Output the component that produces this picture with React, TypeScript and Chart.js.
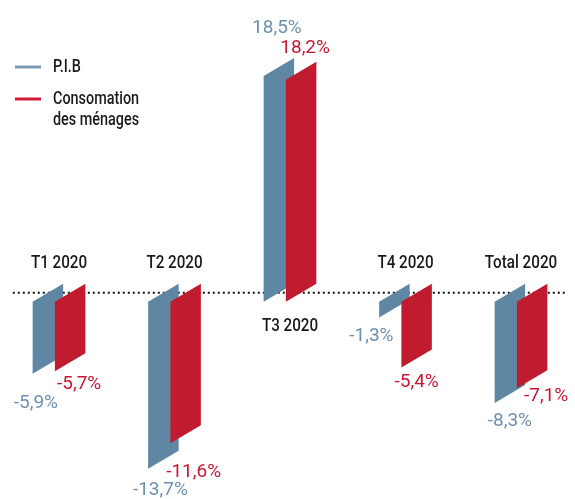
import React, { useEffect, useRef } from "react";
import { Chart, registerables } from "chart.js";

Chart.register(...registerables);

// ---- Data ----
const categories = ["T1 2020", "T2 2020", "T3 2020", "T4 2020", "Total 2020"];
const seriesNames = ["P.I.B", "Consomation\ndes ménages"];
const pibValues = [-5.9, -13.7, 18.5, -1.3, -8.3];
const consoValues = [-5.7, -11.6, 18.2, -5.4, -7.1];

// ---- Styles ----
const BAR_COLORS = ["#5f87a4", "#c11b2f"];
const LABEL_COLORS = ["#6c90b0", "#c8172e"];
const LEGEND_COLORS = ["#7d9ab3", "#d41a3a"];
const TEXT_COLOR = "#1a1a1a";
const NARROW = "Roboto, sans-serif";
const NARROW_SCALE = 0.8;
const VALUE_FONT = "19px Roboto, sans-serif";
// label nudges (dx from bar center, dy from anchor corner) per dataset, per category
const LABEL_NUDGE = [
  [[-12, 30], [-3, 21], [-2, -30], [-23, 19], [0, 18]],
  [[9, 13], [8, 29], [4, -13], [0, 15], [14, 8]],
];

const fmt = (v: number) => v.toFixed(1).replace(".", ",") + "%";

function narrowText(ctx: CanvasRenderingContext2D, t: string, x: number, y: number) {
  ctx.save();
  ctx.translate(x, y);
  ctx.scale(NARROW_SCALE, 1);
  ctx.fillText(t, 0, 0);
  ctx.restore();
}

const skewPlugin = {
  id: "skewBars",
  beforeDatasetsDraw(chart: any) {
    const { ctx, scales } = chart;
    const y0 = scales.y.getPixelForValue(0);
    const xl = scales.x.getPixelForValue(-0.4);
    const xr = scales.x.getPixelForValue(4.4);
    ctx.save();
    ctx.setLineDash([2, 3]);
    ctx.lineWidth = 2;
    ctx.strokeStyle = "#111";
    ctx.beginPath();
    ctx.moveTo(xl, y0);
    ctx.lineTo(xr, y0);
    ctx.stroke();
    ctx.restore();
  },
  afterDatasetsDraw(chart: any) {
    const { ctx, scales } = chart;
    const y0 = scales.y.getPixelForValue(0);
    ctx.save();
    // bars
    chart.data.datasets.forEach((ds: any, di: number) => {
      const meta = chart.getDatasetMeta(di);
      meta.data.forEach((el: any) => {
        const { x, y, base, width } = el.getProps(["x", "y", "base", "width"], true);
        const top = Math.min(y, base);
        const bot = Math.max(y, base);
        const s = width * 0.295;
        const l = x - width / 2;
        const r = x + width / 2;
        ctx.fillStyle = BAR_COLORS[di];
        ctx.beginPath();
        ctx.moveTo(l, top + s);
        ctx.lineTo(r, top - s);
        ctx.lineTo(r, bot - s);
        ctx.lineTo(l, bot + s);
        ctx.closePath();
        ctx.fill();
      });
    });
    // value labels
    ctx.font = VALUE_FONT;
    ctx.textAlign = "center";
    ctx.textBaseline = "middle";
    chart.data.datasets.forEach((ds: any, di: number) => {
      const meta = chart.getDatasetMeta(di);
      meta.data.forEach((el: any, i: number) => {
        const v = ds.data[i];
        const { x, y, base, width } = el.getProps(["x", "y", "base", "width"], true);
        const s = width * 0.295;
        const [dx, dy] = LABEL_NUDGE[di][i];
        const anchorY = v < 0 ? Math.max(y, base) + s : Math.min(y, base) - s;
        ctx.fillStyle = LABEL_COLORS[di];
        ctx.fillText(fmt(v), x + dx, anchorY + dy);
      });
    });
    // category labels
    ctx.font = `500 19px ${NARROW}`;
    ctx.fillStyle = TEXT_COLOR;
    chart.data.labels.forEach((lab: string, i: number) => {
      const cx = scales.x.getPixelForValue(i);
      const allPos = chart.data.datasets.every((d: any) => d.data[i] >= 0);
      narrowText(ctx, lab, cx, allPos ? y0 + 34 : y0 - 29);
    });
    // legend
    ctx.textAlign = "left";
    ctx.font = `500 18px ${NARROW}`;
    let ly = 67;
    chart.data.datasets.forEach((ds: any, di: number) => {
      ctx.strokeStyle = LEGEND_COLORS[di];
      ctx.lineWidth = 3;
      ctx.setLineDash([]);
      ctx.beginPath();
      ctx.moveTo(15, ly);
      ctx.lineTo(41, ly);
      ctx.stroke();
      ctx.fillStyle = TEXT_COLOR;
      const lines = String(ds.label).split("\n");
      lines.forEach((t, k) => narrowText(ctx, t, 53, ly + k * 21.5));
      ly += 32;
    });
    ctx.restore();
  },
};

export default function App() {
  const ref = useRef<HTMLCanvasElement | null>(null);
  useEffect(() => {
    document.body.style.margin = "0";
    const chart = new Chart(ref.current as HTMLCanvasElement, {
      type: "bar",
      data: {
        labels: categories,
        datasets: [
          { label: seriesNames[0], data: pibValues, backgroundColor: "rgba(0,0,0,0)", borderWidth: 0 },
          { label: seriesNames[1], data: consoValues, backgroundColor: "rgba(0,0,0,0)", borderWidth: 0 },
        ],
      },
      options: {
        animation: false,
        responsive: true,
        maintainAspectRatio: false,
        layout: { padding: { left: 59, right: 54, top: 6, bottom: 5 } },
        datasets: { bar: { categoryPercentage: 0.385, barPercentage: 1.37 } },
        plugins: { legend: { display: false }, tooltip: { enabled: false } },
        scales: {
          x: { display: false, offset: false, grid: { display: false } },
          y: { display: false, min: -16.5, max: 23.5, grid: { display: false } },
        },
      },
      plugins: [skewPlugin],
    });
    return () => chart.destroy();
  }, []);
  return (
    <div style={{ width: 575, height: 499, position: "relative" }}>
      <canvas ref={ref} />
    </div>
  );
}
